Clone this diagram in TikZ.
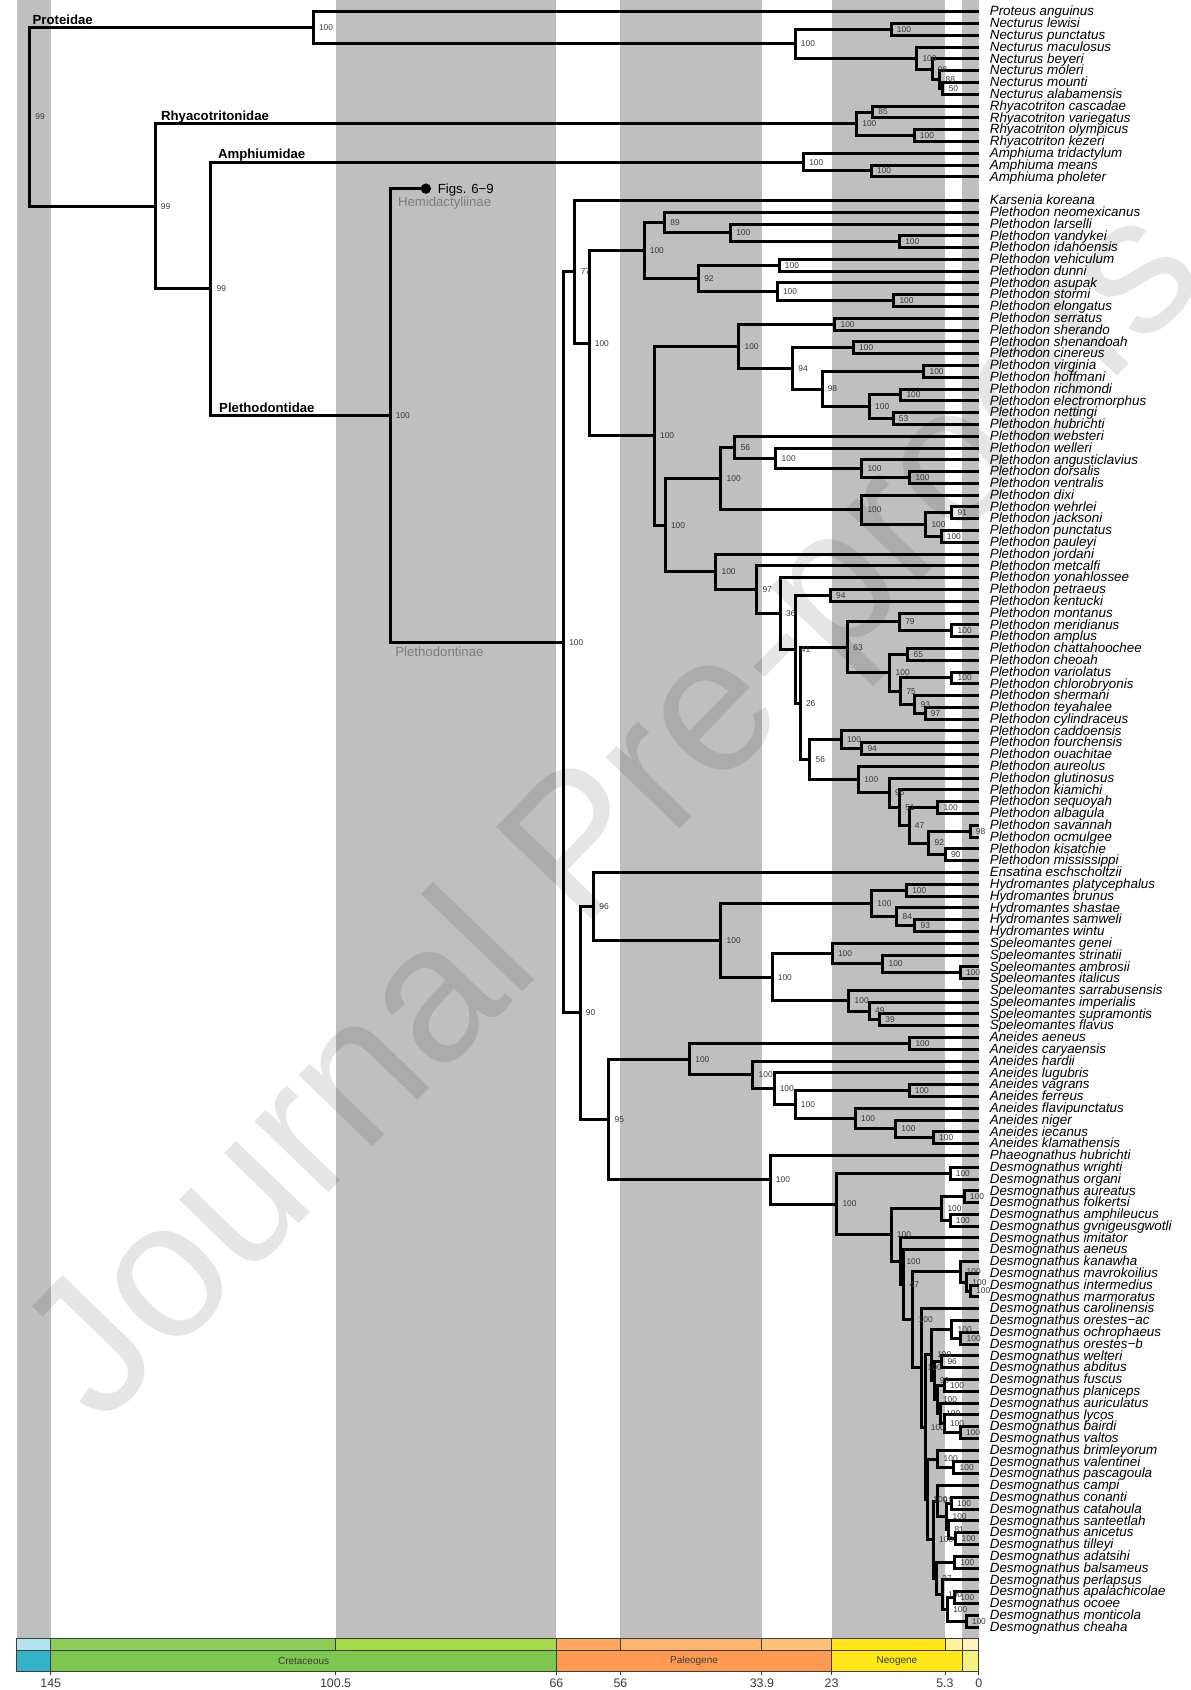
\documentclass[tikz,border=0pt]{standalone}
\usepackage{fontspec}
\setmainfont{Liberation Sans}
\usetikzlibrary{calc}
\definecolor{bandGrey}{RGB}{191,191,191}
\definecolor{bsGrey}{RGB}{55,55,55}
\definecolor{subGrey}{RGB}{125,125,125}
\definecolor{edgeGrey}{RGB}{60,60,60}
\definecolor{jurE}{RGB}{179,227,238}
\definecolor{jurP}{RGB}{52,178,201}
\definecolor{creE}{RGB}{140,205,87}
\definecolor{creL}{RGB}{166,216,74}
\definecolor{creP}{RGB}{127,198,78}
\definecolor{palE}{RGB}{253,167,95}
\definecolor{eocE}{RGB}{253,180,108}
\definecolor{oliE}{RGB}{253,192,122}
\definecolor{pgP}{RGB}{253,154,82}
\definecolor{mioE}{RGB}{255,230,25}
\definecolor{pliE}{RGB}{255,242,160}
\definecolor{pleE}{RGB}{255,242,190}
\definecolor{ngP}{RGB}{255,230,25}
\definecolor{quP}{RGB}{245,240,130}
\tikzset{
  branch/.style={line width=1.5pt, line join=miter},
  bs/.style={anchor=west, inner sep=0pt, xshift=2.7pt, text=bsGrey,
    font=\fontsize{4.2}{4.2}\selectfont},
  tiplab/.style={anchor=base west, inner sep=0pt, xshift=5.3pt, yshift=-2.1pt,
    font=\fontsize{6.7}{6.7}\selectfont\itshape},
  fam/.style={anchor=base west, inner sep=0pt, yshift=1.7pt,
    font=\fontsize{6.6}{6.6}\selectfont\bfseries},
  subfam/.style={anchor=base west, inner sep=0pt, text=subGrey,
    font=\fontsize{6.6}{6.6}\selectfont},
  gtsbox/.style={draw=edgeGrey, line width=0.4pt},
  period/.style={text=edgeGrey, font=\fontsize{5}{5}\selectfont},
  agelab/.style={text=edgeGrey, font=\fontsize{6.2}{6.2}\selectfont}
}
\newcommand{\clade}[5]{%
  \coordinate (m#1) at ($(#3)!0.5!(#4)$);
  \coordinate (#1) at (#2,0 |- m#1);
  \draw[branch] (#3) -| (#1) |- (#4);
  \node[bs] (s#1) at (#1) {#5};}

\begin{document}
\begin{tikzpicture}[x=-3.2pt, y=-5.895pt]
\useasboundingbox (152.94,0) rectangle (-33.0,143.34);

\foreach \a/\b in {150.3/145, 100.5/66, 56/33.9, 23/5.3, 2.58/0}
  \fill[bandGrey] (\a,0) rectangle (\b,139);

\node[rotate=46, text=black, opacity=0.1, font=\fontsize{97}{97}\selectfont]
  (wmark) at (56.06,69.47) {Journal Pre-proofs};

% tips
\foreach \name [count=\i] in {Proteus anguinus, Necturus lewisi, Necturus punctatus,
    Necturus maculosus, Necturus beyeri, Necturus moleri, Necturus mounti,
    Necturus alabamensis, Rhyacotriton cascadae, Rhyacotriton variegatus,
    Rhyacotriton olympicus, Rhyacotriton kezeri, Amphiuma tridactylum,
    Amphiuma means, Amphiuma pholeter}{
  \coordinate (t\i) at (0,\i);
  \node[tiplab] (l\i) at (t\i) {\name};
}
\foreach \name [count=\i from 17] in {Karsenia koreana, Plethodon neomexicanus,
    Plethodon larselli, Plethodon vandykei, Plethodon idahoensis, Plethodon vehiculum,
    Plethodon dunni, Plethodon asupak, Plethodon stormi, Plethodon elongatus,
    Plethodon serratus, Plethodon sherando, Plethodon shenandoah, Plethodon cinereus,
    Plethodon virginia, Plethodon hoffmani, Plethodon richmondi,
    Plethodon electromorphus, Plethodon nettingi, Plethodon hubrichti,
    Plethodon websteri, Plethodon welleri, Plethodon angusticlavius,
    Plethodon dorsalis, Plethodon ventralis, Plethodon dixi, Plethodon wehrlei,
    Plethodon jacksoni, Plethodon punctatus, Plethodon pauleyi, Plethodon jordani,
    Plethodon metcalfi, Plethodon yonahlossee, Plethodon petraeus,
    Plethodon kentucki, Plethodon montanus, Plethodon meridianus, Plethodon amplus,
    Plethodon chattahoochee, Plethodon cheoah, Plethodon variolatus,
    Plethodon chlorobryonis, Plethodon shermani, Plethodon teyahalee,
    Plethodon cylindraceus, Plethodon caddoensis, Plethodon fourchensis,
    Plethodon ouachitae, Plethodon aureolus, Plethodon glutinosus,
    Plethodon kiamichi, Plethodon sequoyah, Plethodon albagula, Plethodon savannah,
    Plethodon ocmulgee, Plethodon kisatchie, Plethodon mississippi}{
  \coordinate (t\i) at (0,\i);
  \node[tiplab] (l\i) at (t\i) {\name};
}
\foreach \name [count=\i from 74] in {Ensatina eschscholtzii,
    Hydromantes platycephalus, Hydromantes brunus, Hydromantes shastae,
    Hydromantes samweli, Hydromantes wintu, Speleomantes genei,
    Speleomantes strinatii, Speleomantes ambrosii, Speleomantes italicus,
    Speleomantes sarrabusensis, Speleomantes imperialis, Speleomantes supramontis,
    Speleomantes flavus, Aneides aeneus, Aneides caryaensis, Aneides hardii,
    Aneides lugubris, Aneides vagrans, Aneides ferreus, Aneides flavipunctatus,
    Aneides niger, Aneides iecanus, Aneides klamathensis}{
  \coordinate (t\i) at (0,\i);
  \node[tiplab] (l\i) at (t\i) {\name};
}
\foreach \name [count=\i from 98] in {Phaeognathus hubrichti,
    Desmognathus wrighti, Desmognathus organi, Desmognathus aureatus,
    Desmognathus folkertsi, Desmognathus amphileucus, Desmognathus gvnigeusgwotli,
    Desmognathus imitator, Desmognathus aeneus, Desmognathus kanawha,
    Desmognathus mavrokoilius, Desmognathus intermedius, Desmognathus marmoratus,
    Desmognathus carolinensis, Desmognathus orestes−ac, Desmognathus ochrophaeus,
    Desmognathus orestes−b, Desmognathus welteri, Desmognathus abditus,
    Desmognathus fuscus, Desmognathus planiceps, Desmognathus auriculatus,
    Desmognathus lycos, Desmognathus bairdi, Desmognathus valtos,
    Desmognathus brimleyorum, Desmognathus valentinei, Desmognathus pascagoula,
    Desmognathus campi, Desmognathus conanti, Desmognathus catahoula,
    Desmognathus santeetlah, Desmognathus anicetus, Desmognathus tilleyi,
    Desmognathus adatsihi, Desmognathus balsameus, Desmognathus perlapsus,
    Desmognathus apalachicolae, Desmognathus ocoee, Desmognathus monticola,
    Desmognathus cheaha}{
  \coordinate (t\i) at (0,\i);
  \node[tiplab] (l\i) at (t\i) {\name};
}
\coordinate (hemi) at (86.4,16);

% Proteidae, Rhyacotritonidae, Amphiumidae
\clade{nec50}{5.6}{t7}{t8}{50}
\clade{nec88}{6.1}{t6}{nec50}{88}
\clade{nec98}{7.3}{t5}{nec88}{98}
\clade{necMac}{9.7}{t4}{nec98}{100}
\clade{necLew}{13.7}{t2}{t3}{100}
\clade{nect}{28.7}{necLew}{necMac}{100}
\clade{prot}{104.0}{t1}{nect}{100}
\clade{rhyCas}{16.6}{t9}{t10}{85}
\clade{rhyOly}{10.1}{t11}{t12}{100}
\clade{rhya}{19.1}{rhyCas}{rhyOly}{100}
\clade{ampMea}{16.8}{t14}{t15}{100}
\clade{amph}{27.4}{t13}{ampMea}{100}

% Plethodon
\clade{plH}{12.4}{t20}{t21}{100}
\clade{plG}{38.8}{t19}{plH}{100}
\clade{plE}{49.1}{t18}{plG}{89}
\clade{plI}{31.2}{t22}{t23}{100}
\clade{plK}{13.3}{t25}{t26}{100}
\clade{plJ}{31.5}{t24}{plK}{100}
\clade{plF}{43.8}{plI}{plJ}{92}
\clade{plC}{52.3}{plE}{plF}{100}
\clade{plN}{22.5}{t27}{t28}{100}
\clade{plP}{19.6}{t29}{t30}{100}
\clade{plR}{8.6}{t31}{t32}{100}
\clade{plT}{12.2}{t33}{t34}{100}
\clade{plU}{13.4}{t35}{t36}{53}
\clade{plS}{17.1}{plT}{plU}{100}
\clade{plQ}{24.5}{plR}{plS}{98}
\clade{plO}{29.1}{plP}{plQ}{94}
\clade{plL}{37.5}{plN}{plO}{100}
\clade{plX}{10.8}{t40}{t41}{100}
\clade{plW}{18.3}{t39}{plX}{100}
\clade{plV}{31.7}{t38}{plW}{100}
\clade{plM}{38.1}{t37}{plV}{56}
\clade{plAB}{4.2}{t43}{t44}{91}
\clade{plAC}{5.9}{t45}{t46}{100}
\clade{plAA}{8.3}{plAB}{plAC}{100}
\clade{plZ}{18.3}{t42}{plAA}{100}
\clade{plY}{40.3}{plM}{plZ}{100}
\clade{plAN}{4.2}{t53}{t54}{100}
\clade{plAL}{12.4}{t52}{plAN}{79}
\clade{plAO}{11.1}{t55}{t56}{65}
\clade{plAQ}{4.2}{t57}{t58}{100}
\clade{plAS}{8.4}{t60}{t61}{97}
\clade{plAR}{10.0}{t59}{plAS}{93}
\clade{plAP}{12.2}{plAQ}{plAR}{75}
\clade{plAM}{13.9}{plAO}{plAP}{100}
\clade{plAJ}{20.5}{plAL}{plAM}{63}
\clade{plAV}{18.3}{t63}{t64}{94}
\clade{plAT}{21.5}{t62}{plAV}{100}
\clade{plAZ}{6.4}{t68}{t69}{100}
\clade{plBB}{1.35}{t70}{t71}{98}
\clade{plBC}{5.25}{t72}{t73}{90}
\clade{plBA}{7.8}{plBB}{plBC}{92}
\clade{plAY}{10.9}{plAZ}{plBA}{47}
\clade{plAX}{12.4}{t67}{plAY}{51}
\clade{plAW}{14.0}{t66}{plAX}{96}
\clade{plAU}{18.8}{t65}{plAW}{100}
\clade{plAK}{26.4}{plAT}{plAU}{56}
\clade{plAI}{27.9}{plAJ}{plAK}{26}
\clade{plPK}{23.2}{t50}{t51}{94}
\clade{plAH}{28.7}{plPK}{plAI}{41}
\clade{plAG}{31.0}{t49}{plAH}{36}
\clade{plAF}{34.7}{t48}{plAG}{97}
\clade{plAE}{41.1}{t47}{plAF}{100}
\clade{plAD}{49.0}{plY}{plAE}{100}
\clade{plD}{50.7}{plL}{plAD}{100}
\clade{plB}{60.9}{plC}{plD}{100}
\clade{plA}{63.1}{t17}{plB}{77}

% Ensatina, Hydromantes, Speleomantes
\clade{hyBH}{11.3}{t75}{t76}{100}
\clade{hyBJ}{10.0}{t78}{t79}{93}
\clade{hyBI}{12.8}{t77}{hyBJ}{84}
\clade{hyBF}{16.75}{hyBH}{hyBI}{100}
\clade{spBN}{2.9}{t82}{t83}{100}
\clade{spBM}{15.0}{t81}{spBN}{100}
\clade{spBK}{22.9}{t80}{spBM}{100}
\clade{spBP}{15.5}{t86}{t87}{39}
\clade{spBO}{17.1}{t85}{spBP}{49}
\clade{spBL}{20.3}{t84}{spBO}{100}
\clade{spBG}{32.3}{spBK}{spBL}{100}
\clade{hyBE}{40.3}{hyBF}{spBG}{100}
\clade{enBD}{60.2}{t74}{hyBE}{96}

% Aneides
\clade{anBU}{10.8}{t88}{t89}{100}
\clade{anCB}{7.1}{t96}{t97}{100}
\clade{anCA}{13.0}{t95}{anCB}{100}
\clade{anBZ}{19.3}{t94}{anCA}{100}
\clade{anBY}{10.9}{t92}{t93}{100}
\clade{anBX}{28.7}{anBY}{anBZ}{100}
\clade{anBW}{32.0}{t91}{anBX}{100}
\clade{anBV}{35.3}{t90}{anBW}{100}
\clade{anBS}{45.2}{anBU}{anBV}{100}

% Desmognathus
\clade{deCD}{4.5}{t99}{t100}{100}
\clade{deCH}{2.3}{t101}{t102}{100}
\clade{deCI}{4.5}{t103}{t104}{100}
\clade{deCF}{5.8}{deCH}{deCI}{100}
\clade{deCN}{1.3}{t109}{t110}{100}
\clade{deCM}{1.9}{t108}{deCN}{100}
\clade{deCL}{2.8}{t107}{deCM}{100}
\clade{deCR}{2.8}{t113}{t114}{100}
\clade{deCQ}{4.2}{t112}{deCR}{100}
\clade{deWA}{5.8}{t115}{t116}{96}
\clade{deFP}{5.4}{t117}{t118}{100}
\clade{deCX}{2.9}{t121}{t122}{100}
\clade{deCW}{5.4}{t120}{deCX}{100}
\clade{deCV}{6.0}{t119}{deCW}{100}
\clade{deCU}{6.5}{deFP}{deCV}{100}
\clade{deCT}{7.0}{deWA}{deCU}{99}
\clade{deCS}{7.4}{deCQ}{deCT}{100}
\clade{deCZ}{3.9}{t124}{t125}{100}
\clade{deDA}{6.4}{t123}{deCZ}{100}
\clade{deDB}{4.3}{t127}{t128}{100}
\clade{deDE}{3.6}{t130}{t131}{100}
\clade{deDD}{4.7}{t129}{deDE}{81}
\clade{deDC}{5.0}{deDB}{deDD}{100}
\clade{deDG}{6.5}{t126}{deDC}{91}
\clade{deDI}{3.8}{t132}{t133}{100}
\clade{deDJ}{3.8}{t135}{t136}{100}
\clade{deDK}{2.0}{t137}{t138}{100}
\clade{deDL}{4.9}{deDJ}{deDK}{100}
\clade{deDM}{5.7}{t134}{deDL}{100}
\clade{deDN}{6.6}{deDI}{deDM}{37}
\clade{deDH}{7.1}{deDG}{deDN}{100}
\clade{deCY}{8.0}{deDA}{deDH}{100}
\clade{deCP}{8.4}{deCS}{deCY}{100}
\clade{deCO}{8.9}{t111}{deCP}{100}
\clade{deCK}{10.3}{deCL}{deCO}{100}
\clade{deCJ}{11.7}{t106}{deCK}{47}
\clade{deCG}{12.2}{t105}{deCJ}{100}
\clade{deCE}{13.7}{deCF}{deCG}{100}
\clade{deCC}{22.2}{deCD}{deCE}{100}
\clade{deBT}{32.6}{t98}{deCC}{100}
\clade{anBR}{57.8}{anBS}{deBT}{95}
\clade{enBQ}{62.3}{enBD}{anBR}{90}

% backbone
\clade{pthn}{64.9}{plA}{enBQ}{100}
\clade{pthd}{92.0}{hemi}{pthn}{100}
\clade{cauR3}{120.0}{amph}{pthd}{99}
\clade{cauR2}{128.7}{rhya}{cauR3}{99}
\clade{root}{148.3}{prot}{cauR2}{99}

\fill (hemi) circle (2.6pt);
\node[anchor=base west, inner sep=0pt, xshift=5.8pt, yshift=-2.35pt,
  font=\fontsize{6.6}{6.6}\selectfont] (figs) at (hemi) {Figs. 6−9};
\node[subfam, xshift=3.8pt, yshift=-9pt] (hemlab) at (pthd |- hemi) {Hemidactyliinae};
\node[subfam, xshift=2.5pt, yshift=-6.85pt] (plelab) at (pthd |- pthn) {Plethodontinae};

\node[fam, xshift=1.3pt] (fProt) at (root |- prot) {Proteidae};
\node[fam, xshift=2.8pt] (fRhya) at (cauR2 |- rhya) {Rhyacotritonidae};
\node[fam, xshift=3.4pt] (fAmph) at (cauR3 |- amph) {Amphiumidae};
\node[fam, xshift=4pt] (fPled) at (cauR3 |- pthd) {Plethodontidae};

% time scale
\foreach \a/\b/\c in {150.3/145/jurE, 145/100.5/creE, 100.5/66/creL, 66/56/palE,
    56/33.9/eocE, 33.9/23/oliE, 23/5.3/mioE, 5.3/2.58/pliE, 2.58/0/pleE}
  \filldraw[gtsbox, fill=\c] (\a,139) rectangle (\b,140);
\foreach \a/\b/\c/\n in {150.3/145/jurP/, 145/66/creP/Cretaceous, 66/23/pgP/Paleogene,
    23/2.58/ngP/Neogene, 2.58/0/quP/}{
  \filldraw[gtsbox, fill=\c] (\a,140) rectangle (\b,141.75);
  \node[period] at ($(\a,140.875)!0.5!(\b,140.875)$) {\n};
}
\foreach \t in {145,100.5,66,56,33.9,23,5.3,0}{
  \draw[gtsbox] (\t,141.75) -- (\t,142.1);
  \node[agelab] at (\t,142.75) {\t};
}
\end{tikzpicture}
\end{document}
